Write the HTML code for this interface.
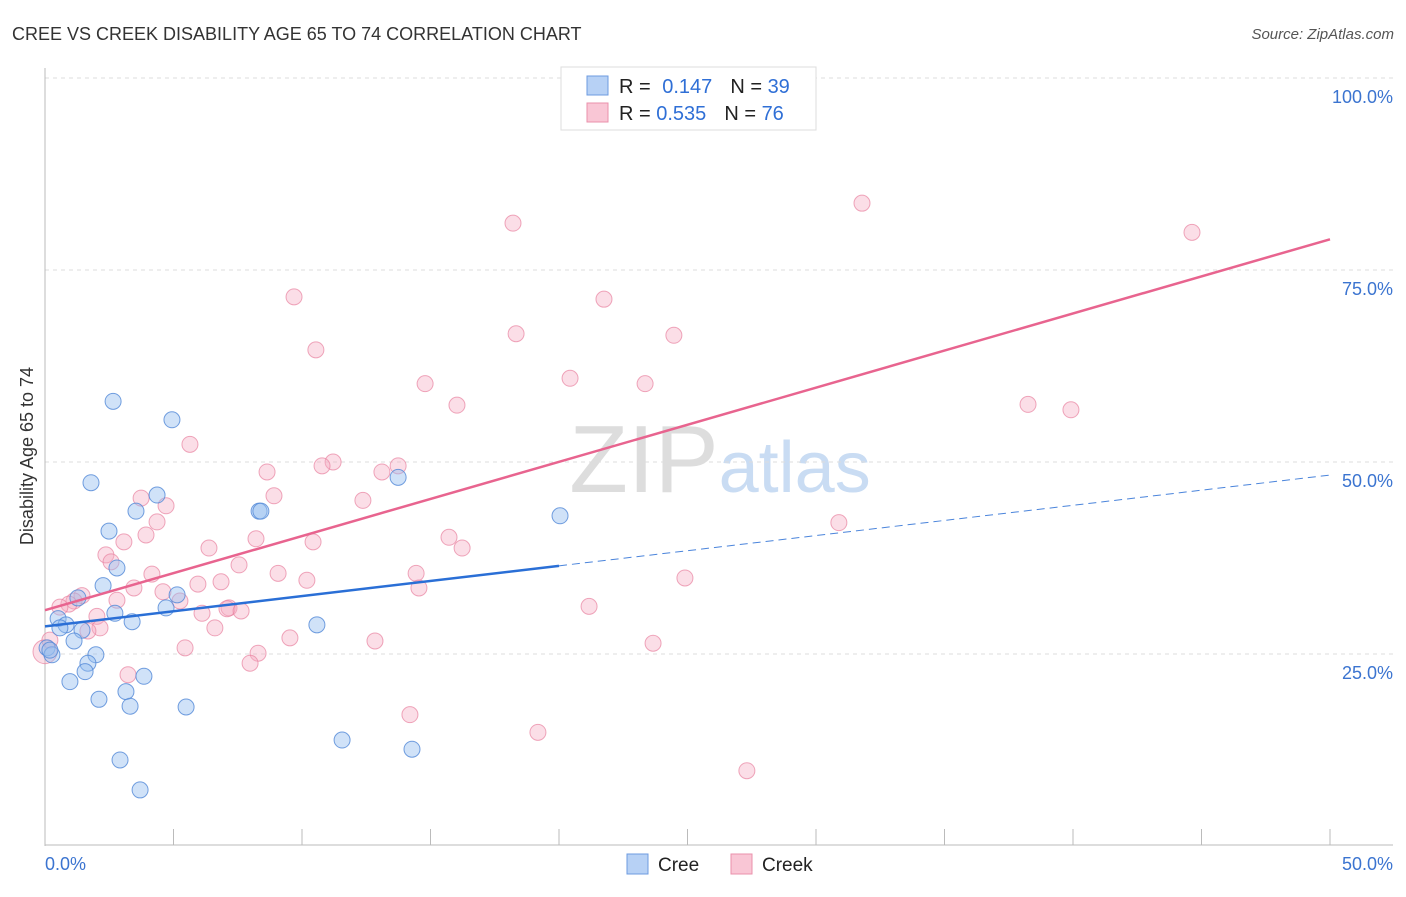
<!DOCTYPE html>
<html><head><meta charset="utf-8"><style>
body{margin:0;background:#fff;font-family:"Liberation Sans",sans-serif}
svg text{font-family:"Liberation Sans",sans-serif}
</style></head><body>
<svg id="chart" width="1406" height="892">
<text x="12" y="40" font-size="18" fill="#333">CREE VS CREEK DISABILITY AGE 65 TO 74 CORRELATION CHART</text>
<text x="1394" y="39" font-size="15" fill="#555" text-anchor="end" font-style="italic">Source: ZipAtlas.com</text>
<text x="720" y="492" font-size="96" fill="#ddd" text-anchor="middle" font-family="Liberation Serif">ZIP<tspan fill="#c9dcf3" font-family="Liberation Sans" font-size="72">atlas</tspan></text>
<g id="grid"></g>
<g id="axes"></g>
<g id="marks"></g>
<text transform="translate(33,456) rotate(-90)" font-size="18" fill="#333" text-anchor="middle">Disability Age 65 to 74</text>
<g>
<rect x="561" y="67" width="255" height="63" fill="#fff" stroke="#ddd"/>
<rect x="587" y="76" width="21" height="19" fill="#b7d1f5" stroke="#6d9be0"/>
<rect x="587" y="103" width="21" height="19" fill="#f9c6d5" stroke="#ea90ab"/>
<text x="619" y="93" font-size="20" fill="#222">R = <tspan fill="#2f6fd6" dx="6">0.147</tspan><tspan fill="#222" dx="18">N = </tspan><tspan fill="#2f6fd6">39</tspan></text>
<text x="619" y="120" font-size="20" fill="#222">R = <tspan fill="#2f6fd6">0.535</tspan><tspan fill="#222" dx="18">N = </tspan><tspan fill="#2f6fd6">76</tspan></text>
</g>
<g>
<rect x="627" y="854" width="21" height="20" fill="#b7d1f5" stroke="#6d9be0"/>
<text x="658" y="871" font-size="19" fill="#222">Cree</text>
<rect x="731" y="854" width="21" height="20" fill="#f9c6d5" stroke="#ea90ab"/>
<text x="762" y="871" font-size="19" fill="#222">Creek</text>
</g>
</svg>
<script>
const yTicks=[25,50,75,100];
const yTickLabels=["25.0%","50.0%","75.0%","100.0%"];
const xTickLabels=["0.0%","50.0%"];
const creeX=[2.65,4.94,1.79,4.36,3.54,2.49,8.33,8.40,13.74,20.04,2.26,2.80,5.14,4.71,2.72,3.39,1.28,0.51,0.82,1.44,1.13,0.08,0.27,1.98,1.67,1.56,0.97,3.15,2.10,3.31,5.49,3.85,10.58,11.56,14.28,2.92,3.70,0.58,0.19];
const creeY=[57.9,55.5,47.3,45.7,43.6,41.0,43.6,43.6,48.0,43.0,33.9,36.2,32.7,31.0,30.3,29.2,32.3,29.6,28.8,28.1,26.7,25.8,24.9,24.9,23.8,22.7,21.4,20.1,19.1,18.2,18.1,22.1,28.8,13.8,12.6,11.2,7.3,28.4,25.5];
const creekX=[18.21,31.79,44.63,9.69,21.75,18.33,24.47,10.54,20.43,23.35,14.79,16.03,38.25,39.92,5.64,11.21,10.78,8.64,13.74,13.11,8.91,12.37,3.74,4.71,4.36,3.93,15.72,16.23,30.89,8.21,10.43,6.38,3.07,2.37,2.57,7.55,4.16,9.07,10.19,14.44,24.90,3.46,6.85,5.95,4.59,5.25,2.80,1.44,1.13,0.93,0.58,2.02,7.16,7.08,7.63,6.11,21.17,14.55,2.14,1.67,6.61,9.53,12.84,23.66,5.45,8.29,7.98,3.23,14.20,19.18,27.31,0.0,0.19,22.96,28.95];
const creekY=[81.1,83.7,79.9,71.5,71.2,66.7,66.5,64.6,60.9,60.2,60.2,57.4,57.5,56.8,52.3,50.0,49.5,48.7,49.5,48.7,45.6,45.0,45.3,44.3,42.2,40.5,40.2,38.8,42.1,40.0,39.6,38.8,39.6,37.9,37.0,36.6,35.4,35.5,34.6,35.5,34.9,33.6,34.4,34.1,33.1,31.9,32.0,32.6,31.9,31.5,31.1,29.9,31.0,30.9,30.6,30.3,31.2,33.6,28.4,28.0,28.4,27.1,26.7,26.4,25.8,25.1,23.8,22.3,17.1,14.8,9.8,25.3,26.8,99.7,99.7];
const creeTrend=[28.6,0.394];
const creekTrend=[30.7,0.966];
const NS="http://www.w3.org/2000/svg";
const X0=45,X1=1330,Y0=846,YH=78;
function sx(v){return X0+(X1-X0)*v/50;}
function sy(v){return Y0-(Y0-YH)*v/100;}
function mk(tag,attrs,parent){const e=document.createElementNS(NS,tag);for(const k in attrs)e.setAttribute(k,attrs[k]);document.getElementById(parent).appendChild(e);return e;}
yTicks.forEach((t,i)=>{
 const l=mk('line',{x1:X0,x2:1393,y1:sy(t),y2:sy(t),stroke:'#ddd','stroke-dasharray':'4,4'},'grid');
 
 
 const tx=mk('text',{x:1393,y:sy(t)+25,'font-size':18,fill:'#3b74d0','text-anchor':'end'},'axes');
 tx.textContent=yTickLabels[i];
 
 
});
const ax=mk('line',{x1:X0,x2:X0,y1:68,y2:846,stroke:'#bbb'},'axes');


const bx=mk('line',{x1:X0,x2:1393,y1:845,y2:845,stroke:'#bbb'},'axes');


for(let i=0;i<=10;i++){
 const t=mk('line',{x1:sx(i*5),x2:sx(i*5),y1:829,y2:845,stroke:'#bbb'},'axes');
 
 
}
[[0,'start',45],[50,'end',1393]].forEach((a,i)=>{
 const tx=mk('text',{x:a[2],y:870,'font-size':18,fill:'#3b74d0','text-anchor':a[1]},'axes');
 tx.textContent=xTickLabels[i];
 
 
});
creekX.forEach((v,i)=>{
 const c=mk('circle',{cx:sx(v),cy:sy(creekY[i]),r:(i==71?12:8),fill:'rgba(244,172,195,0.4)',stroke:'rgba(232,130,160,0.7)','stroke-width':1},'marks');
 
 
});
creeX.forEach((v,i)=>{
 const c=mk('circle',{cx:sx(v),cy:sy(creeY[i]),r:8,fill:'rgba(150,190,240,0.45)',stroke:'rgba(80,135,215,0.8)','stroke-width':1},'marks');
 
 
});
const pl=mk('line',{x1:sx(0),y1:sy(creekTrend[0]),x2:sx(50),y2:sy(creekTrend[0]+creekTrend[1]*50),stroke:'#e8648f','stroke-width':2.5},'marks');


const bl=mk('line',{x1:sx(0),y1:sy(creeTrend[0]),x2:sx(20),y2:sy(creeTrend[0]+creeTrend[1]*20),stroke:'#2a6fd6','stroke-width':2.5},'marks');


const bd=mk('line',{x1:sx(20),y1:sy(creeTrend[0]+creeTrend[1]*20),x2:sx(50),y2:sy(creeTrend[0]+creeTrend[1]*50),stroke:'#4a84db','stroke-width':1,'stroke-dasharray':'8,5'},'marks');


</script>
</body></html>
